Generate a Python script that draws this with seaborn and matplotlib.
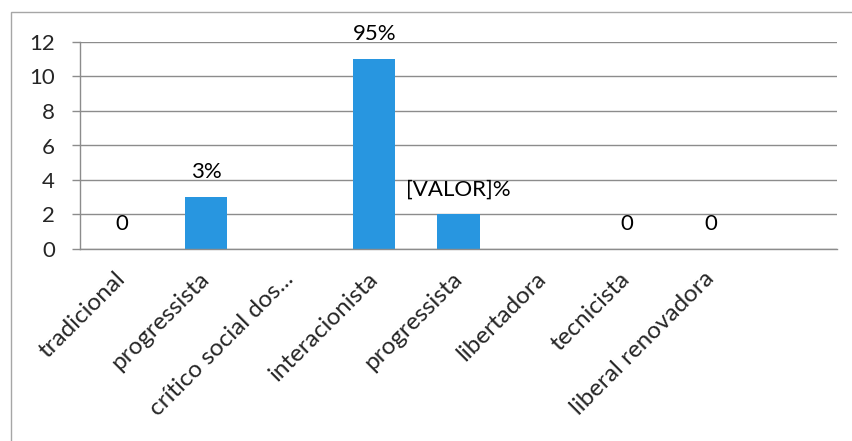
import numpy as np
import pandas as pd
import matplotlib
matplotlib.use("Agg")
import matplotlib.pyplot as plt
import seaborn as sns
from matplotlib.patches import Rectangle

# ---- Data ----
categories = ["tradicional", "progressista", "crítico social dos...", "interacionista",
              "progressista", "libertadora", "tecnicista", "liberal renovadora", ""]
values = [0, 3, np.nan, 11, 2, np.nan, 0, 0, np.nan]
bar_labels = ["0", "3%", "", "95%", "[VALOR]%", "", "0", "0", ""]
y_ticks = [0, 2, 4, 6, 8, 10, 12]

BAR_COLOR = "#2896E0"
LINE_GRAY = "#8c8c8c"

sns.set_style("white")
plt.rcParams["font.family"] = ["Lato", "DejaVu Sans"]

slots = [f"c{i}" for i in range(len(categories))]
df = pd.DataFrame({"slot": slots, "n": values})

fig = plt.figure(figsize=(8.53, 4.41), dpi=100)
ax = fig.add_axes([80 / 853, 1 - 249 / 441, (837 - 80) / 853, (249 - 42) / 441])

sns.barplot(data=df, x="slot", y="n", order=slots, color=BAR_COLOR,
            saturation=1, width=0.5, linewidth=0, ax=ax, errorbar=None)

# value labels above bars
for i, (v, lab) in enumerate(zip(values, bar_labels)):
    if lab and not np.isnan(v):
        ax.annotate(lab, xy=(i, v), xytext=(0, 18), textcoords="offset points",
                    ha="center", va="center", fontsize=16, color="black")

ax.set_xlim(-0.5, len(categories) - 0.5)
ax.set_ylim(0, 12)
ax.set_yticks(y_ticks)
ax.set_xticks(range(len(categories)))
ax.set_xticklabels(categories, rotation=45, ha="right", va="center",
                   rotation_mode="anchor", fontsize=17.5)
ax.set_xticks(np.arange(-0.5, len(categories), 1), minor=True)
ax.tick_params(axis="x", which="major", length=0, pad=19)
ax.tick_params(axis="x", which="minor", length=6, width=1, color=LINE_GRAY, direction="out")
ax.tick_params(axis="y", length=6, width=1, color=LINE_GRAY, pad=12, labelsize=16, left=True)
ax.set_xlabel("")
ax.set_ylabel("")

ax.yaxis.grid(True, color=LINE_GRAY, linewidth=1)
ax.set_axisbelow(True)
for side in ["top", "right"]:
    ax.spines[side].set_visible(False)
for side in ["left", "bottom"]:
    ax.spines[side].set_color(LINE_GRAY)
    ax.spines[side].set_linewidth(1)

# outer chart frame
fig.add_artist(Rectangle((11 / 853, -0.1), 1.2, 1 - 12 / 441 + 0.1,
                         transform=fig.transFigure, fill=False,
                         edgecolor="#a6a6a6", linewidth=1))

fig.savefig("out.png", dpi=100)
